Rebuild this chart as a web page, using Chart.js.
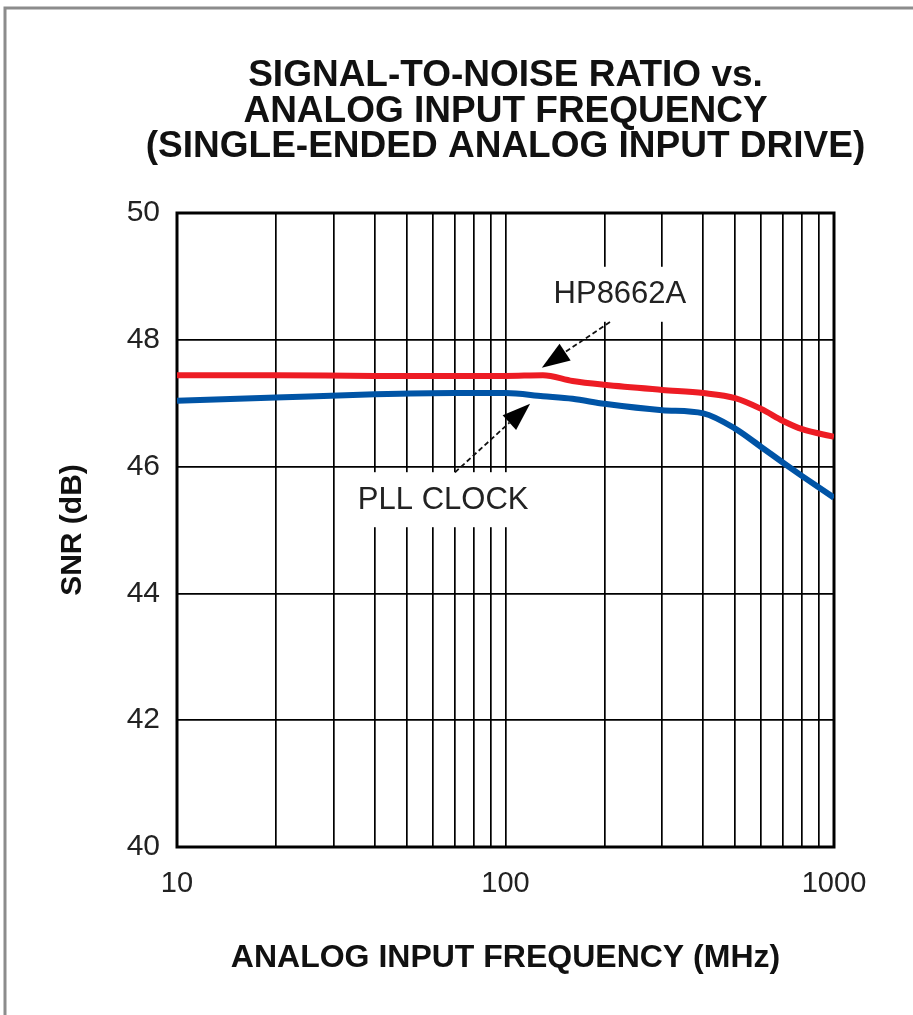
<!DOCTYPE html>
<html>
<head>
<meta charset="utf-8">
<script src="https://cdn.jsdelivr.net/npm/chart.js@4.4.1/dist/chart.umd.min.js"></script>
<style>
    html, body { margin: 0; padding: 0; background: #fff; }
    #wrap { width: 913px; height: 1015px; position: relative; }
</style>
</head>
<body>
<div id="wrap"><canvas id="snrChart" width="913" height="1015"></canvas></div>
<script>
// ========== 数据 ==========
const titleLines = ['SIGNAL-TO-NOISE RATIO vs.', 'ANALOG INPUT FREQUENCY', '(SINGLE-ENDED ANALOG INPUT DRIVE)'];
const freqMHz = [10, 20, 40, 70, 100, 130, 160, 200, 300, 400, 500, 600, 700, 800, 1000];
const snrHP8662A = [47.44, 47.44, 47.43, 47.43, 47.43, 47.44, 47.35, 47.29, 47.21, 47.16, 47.08, 46.91, 46.72, 46.59, 46.47];
const snrPLLClock = [47.04, 47.09, 47.14, 47.16, 47.16, 47.11, 47.07, 46.99, 46.89, 46.84, 46.60, 46.31, 46.06, 45.85, 45.51];
const gridFreqs = [10, 20, 30, 40, 50, 60, 70, 80, 90, 100, 200, 300, 400, 500, 600, 700, 800, 900, 1000];
const labeledFreqs = [10, 100, 1000];

// 标注：文字位置、箭头尾部、箭头尖端 (MHz, dB)
const callouts = [
    { text: 'HP8662A', at: [223, 48.71], tail: [208, 48.28], tip: [129, 47.56] },
    { text: 'PLL CLOCK', at: [64.6, 45.47], tail: [70.2, 45.91], tip: [118.8, 46.99] }
];

function toPoints(ys) {
    return freqMHz.map((f, i) => ({ x: f, y: ys[i] }));
}

// ========== 自定义绘制 ==========
const decorPlugin = {
    id: 'decor',
    beforeDraw(chart) {
        const ctx = chart.ctx;
        ctx.save();
        ctx.strokeStyle = '#8c8c8c';
        ctx.lineWidth = 3;
        ctx.beginPath();
        ctx.moveTo(5, 1015);
        ctx.lineTo(5, 8);
        ctx.lineTo(913, 8);
        ctx.stroke();
        ctx.restore();
    },
    beforeDatasetsDraw(chart) {
        const ctx = chart.ctx;
        const { left, right, top, bottom } = chart.chartArea;
        const xs = chart.scales.x, ys = chart.scales.y;
        ctx.save();

        // 标注文字 + 白底
        ctx.font = '31px "Liberation Sans", Arial, sans-serif';
        ctx.textAlign = 'center';
        ctx.textBaseline = 'middle';
        callouts.forEach(c => {
            const cx = xs.getPixelForValue(c.at[0]);
            const cy = ys.getPixelForValue(c.at[1]);
            const w = ctx.measureText(c.text).width;
            ctx.fillStyle = '#fff';
            ctx.fillRect(cx - w / 2 - 12, cy - 28, w + 24, 55);
            ctx.fillStyle = '#222';
            ctx.fillText(c.text, cx, cy);
        });

        // 箭头
        callouts.forEach(c => {
            const x1 = xs.getPixelForValue(c.tail[0]), y1 = ys.getPixelForValue(c.tail[1]);
            const x2 = xs.getPixelForValue(c.tip[0]), y2 = ys.getPixelForValue(c.tip[1]);
            const ang = Math.atan2(y2 - y1, x2 - x1);
            const headLen = 28, headW = 10;
            const bx = x2 - headLen * Math.cos(ang), by = y2 - headLen * Math.sin(ang);
            ctx.strokeStyle = '#111';
            ctx.lineWidth = 1.8;
            ctx.setLineDash([5, 3]);
            ctx.beginPath();
            ctx.moveTo(x1, y1);
            ctx.lineTo(bx, by);
            ctx.stroke();
            ctx.setLineDash([]);
            ctx.fillStyle = '#000';
            ctx.beginPath();
            ctx.moveTo(x2, y2);
            ctx.lineTo(bx + headW * Math.sin(ang), by - headW * Math.cos(ang));
            ctx.lineTo(bx - headW * Math.sin(ang), by + headW * Math.cos(ang));
            ctx.closePath();
            ctx.fill();
        });

        // 外框
        ctx.strokeStyle = '#000';
        ctx.lineWidth = 3;
        ctx.strokeRect(left, top, right - left, bottom - top);
        ctx.restore();
    },
    afterDraw(chart) {
        const ctx = chart.ctx;
        const { left, right } = chart.chartArea;
        ctx.save();
        ctx.fillStyle = '#111';
        ctx.font = 'bold 37px "Liberation Sans", Arial, sans-serif';
        ctx.textAlign = 'center';
        ctx.textBaseline = 'middle';
        titleLines.forEach((t, i) => {
            ctx.fillText(t, (left + right) / 2, 76 + i * 35.5);
        });
        ctx.restore();
    }
};

new Chart(document.getElementById('snrChart').getContext('2d'), {
    type: 'line',
    data: {
        datasets: [
            {
                label: 'HP8662A',
                data: toPoints(snrHP8662A),
                borderColor: '#ed1c24',
                borderWidth: 6,
                pointRadius: 0,
                cubicInterpolationMode: 'monotone',
                fill: false
            },
            {
                label: 'PLL CLOCK',
                data: toPoints(snrPLLClock),
                borderColor: '#0054a6',
                borderWidth: 6,
                pointRadius: 0,
                cubicInterpolationMode: 'monotone',
                fill: false
            }
        ]
    },
    options: {
        responsive: false,
        animation: false,
        devicePixelRatio: 1,
        layout: { padding: { top: 213, right: 79, left: 0, bottom: 0 } },
        plugins: {
            legend: { display: false },
            tooltip: { enabled: false },
            title: { display: false }
        },
        scales: {
            x: {
                type: 'logarithmic',
                min: 10,
                max: 1000,
                afterBuildTicks: scale => { scale.ticks = gridFreqs.map(v => ({ value: v })); },
                afterFit: scale => { scale.height = 168; },
                grid: { color: '#000', lineWidth: 1.7, drawTicks: false },
                border: { display: false },
                ticks: {
                    autoSkip: false,
                    maxRotation: 0,
                    minRotation: 0,
                    padding: 20,
                    color: '#222',
                    font: { family: '"Liberation Sans", Arial, sans-serif', size: 29 },
                    callback: value => labeledFreqs.includes(value) ? String(value) : ''
                },
                title: {
                    display: true,
                    text: 'ANALOG INPUT FREQUENCY (MHz)',
                    color: '#111',
                    font: { family: '"Liberation Sans", Arial, sans-serif', size: 32, weight: 'bold' },
                    padding: { top: 0, bottom: 38 }
                }
            },
            y: {
                type: 'linear',
                min: 40,
                max: 50,
                afterFit: scale => { scale.width = 177; },
                grid: { color: '#000', lineWidth: 1.7, drawTicks: false },
                border: { display: false },
                ticks: {
                    stepSize: 2,
                    padding: 17,
                    color: '#222',
                    font: { family: '"Liberation Sans", Arial, sans-serif', size: 30 }
                },
                title: {
                    display: true,
                    text: 'SNR (dB)',
                    color: '#111',
                    font: { family: '"Liberation Sans", Arial, sans-serif', size: 30, weight: 'bold' },
                    padding: { top: 55, bottom: 0 }
                }
            }
        }
    },
    plugins: [decorPlugin]
});
</script>
</body>
</html>
